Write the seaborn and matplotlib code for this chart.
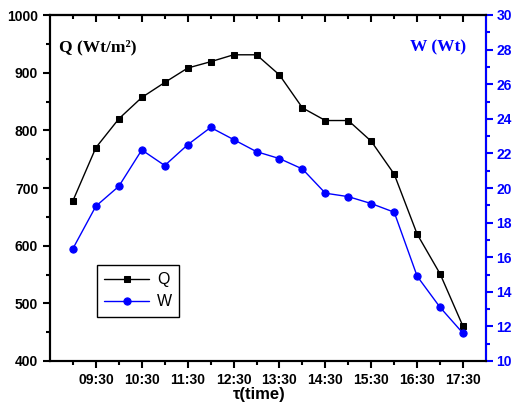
import matplotlib
matplotlib.use("Agg")
import matplotlib.pyplot as plt
import seaborn as sns
import pandas as pd
from matplotlib.ticker import MultipleLocator, FixedLocator

sns.set_style("ticks")
plt.rcParams['font.family'] = ['Liberation Sans', 'DejaVu Sans']
plt.rcParams['text.color'] = 'black'
plt.rcParams['xtick.color'] = 'black'
plt.rcParams['ytick.color'] = 'black'
plt.rcParams['axes.edgecolor'] = 'black'
plt.rcParams['axes.labelcolor'] = 'black'

times = ["09:00", "09:30", "10:00", "10:30", "11:00", "11:30", "12:00", "12:30", "13:00",
         "13:30", "14:00", "14:30", "15:00", "15:30", "16:00", "16:30", "17:00", "17:30"]
Q = [678, 770, 820, 857, 883, 908, 919, 931, 931, 896, 839, 817, 817, 781, 724, 620, 551, 460]
W = [16.5, 18.95, 20.1, 22.2, 21.3, 22.5, 23.5, 22.8, 22.1, 21.7, 21.1, 19.7, 19.5, 19.1, 18.6, 14.9, 13.1, 11.6]
tick_labels = ["09:30", "10:30", "11:30", "12:30", "13:30", "14:30", "15:30", "16:30", "17:30"]

def to_hours(t):
    h, m = t.split(":")
    return int(h) + int(m) / 60.0

df = pd.DataFrame({"t": [to_hours(t) for t in times], "Q": Q, "W": W})

fig = plt.figure(figsize=(5.12, 4.05), dpi=100)
ax = fig.add_axes([50/512, 1 - 361/405, (486-50)/512, (361-15)/405])
ax2 = ax.twinx()

sns.lineplot(data=df, x="t", y="Q", ax=ax, color="black", marker="s", markersize=4.5,
             markeredgecolor="black", linewidth=1.0, label="Q", legend=False)
sns.lineplot(data=df, x="t", y="W", ax=ax2, color="blue", marker="o", markersize=5.2,
             markeredgecolor="blue", linewidth=1.0, label="W", legend=False)

ax.set_xlim(8.5, 18.0)
ax.set_ylim(400, 1000)
ax2.set_ylim(10, 30)

major_x = [to_hours(t) for t in tick_labels]
minor_x = [to_hours(t) for t in times if t.endswith(":00")]
ax.xaxis.set_major_locator(FixedLocator(major_x))
ax.set_xticklabels(tick_labels)
ax.xaxis.set_minor_locator(FixedLocator(minor_x))
ax.yaxis.set_major_locator(MultipleLocator(100))
ax.yaxis.set_minor_locator(MultipleLocator(50))
ax2.yaxis.set_major_locator(MultipleLocator(2))
ax2.yaxis.set_minor_locator(MultipleLocator(1))

for a in (ax, ax2):
    for s in a.spines.values():
        s.set_linewidth(1.5)
        s.set_visible(True)
        s.set_color('black')
ax2.spines['right'].set_color('blue')

ax.tick_params(axis='x', which='both', top=False, direction='out', width=1.5, colors='black')
ax.tick_params(axis='x', which='major', length=5, pad=4)
ax.tick_params(axis='x', which='minor', length=3)
ax.tick_params(axis='y', which='major', length=5, width=1.5, direction='out', colors='black')
ax.tick_params(axis='y', which='minor', length=3, width=1.5, direction='out')
ax2.tick_params(axis='y', which='major', length=5, width=1.5, colors='blue', direction='out', pad=2.5)
ax2.tick_params(axis='y', which='minor', length=3, width=1.5, colors='blue', direction='out')

# top ticks pointing inward
top = ax.secondary_xaxis('top')
top.xaxis.set_major_locator(FixedLocator(major_x))
top.xaxis.set_minor_locator(FixedLocator(minor_x))
top.tick_params(axis='x', which='major', direction='in', length=5, width=1.5, labeltop=False, colors='black')
top.tick_params(axis='x', which='minor', direction='in', length=3, width=1.5, colors='black')
top.spines['top'].set_linewidth(1.5)
top.spines['top'].set_color('black')

for lbl in ax.get_xticklabels() + ax.get_yticklabels():
    lbl.set_fontweight('bold')
    lbl.set_fontsize(10)
    lbl.set_color('black')
for lbl in ax2.get_yticklabels():
    lbl.set_fontweight('bold')
    lbl.set_fontsize(10)
    lbl.set_color('blue')

ax.set_ylabel("")
ax2.set_ylabel("")
ax.set_xlabel("τ(time)", fontsize=12, fontweight='bold', color='black')
ax.xaxis.set_label_coords((259-50)/436, -0.075)
ax.xaxis.label.set_va('top')

ax.text(0.02, 0.905, "Q (Wt/m²)", transform=ax.transAxes, fontsize=12.5,
        fontweight='bold', family=['Liberation Serif', 'DejaVu Serif'], va='center', ha='left')
ax.text(0.955, 0.905, "W (Wt)", transform=ax.transAxes, fontsize=12.5, color='blue',
        fontweight='bold', family=['Liberation Serif', 'DejaVu Serif'], va='center', ha='right')

h1, l1 = ax.get_legend_handles_labels()
h2, l2 = ax2.get_legend_handles_labels()
leg = ax.legend(h1 + h2, l1 + l2, loc='upper left', bbox_to_anchor=((97-50)/436, (361-265)/346),
                borderaxespad=0, fancybox=False, edgecolor='black', framealpha=1, fontsize=11.5,
                borderpad=0.45, handlelength=2.8, labelspacing=0.45, handletextpad=0.5)
leg.get_frame().set_linewidth(1.0)

fig.savefig("out.png", dpi=100)
